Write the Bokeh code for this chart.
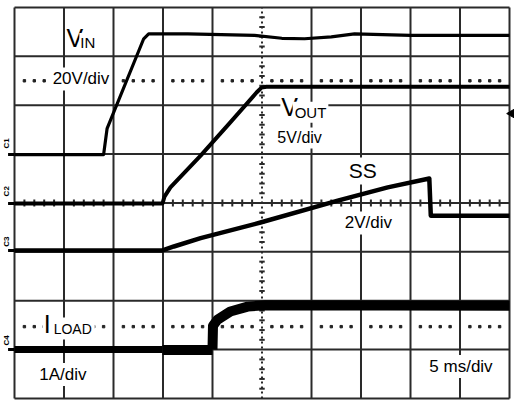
import math
from bokeh.plotting import figure
from bokeh.models import Label, Range1d
from bokeh.core.properties import value
from bokeh.embed import file_html
from bokeh.resources import INLINE

# ---- data (x in time divisions, 5 ms/div; y in screen divisions) ----
VIN_X = [0.0, 1.80, 1.87, 2.61, 2.71, 3.50, 4.85, 5.40, 5.86, 6.40, 6.87, 8.00, 10.0]
VIN_Y = [4.99, 4.99, 5.52, 7.36, 7.46, 7.46, 7.43, 7.37, 7.36, 7.40, 7.46, 7.43, 7.43]

VOUT_X = [0.0, 2.99, 3.03, 3.15, 3.76, 4.36, 4.89, 4.99, 5.09, 10.0]
VOUT_Y = [3.99, 3.99, 4.13, 4.32, 4.97, 5.65, 6.26, 6.36, 6.38, 6.38]

SS_X = [0.0, 2.99, 3.22, 3.76, 4.97, 6.53, 7.54, 8.38, 8.41, 10.0]
SS_Y = [3.03, 3.03, 3.11, 3.28, 3.60, 4.05, 4.32, 4.50, 3.74, 3.74]

ILOAD_X = [0.0, 2.99, 2.99, 4.00, 4.00, 4.01, 4.10, 4.36, 4.71, 5.07, 10.0]
ILOAD_Y = [1.00, 1.00, 0.99, 0.99, 1.00, 1.49, 1.61, 1.78, 1.88, 1.91, 1.90]

CH_NAMES = ["C1", "C2", "C3", "C4"]
CH_LABEL_Y = [5.22, 4.24, 3.21, 1.19]
TRIG_LEVEL = 5.83

N_XDIV, N_YDIV = 10, 8
FONT = "Liberation Sans"
GRID = "#2a2a2a"

p = figure(width=514, height=400,
           x_range=Range1d(-0.2828, 10.101), y_range=Range1d(-0.041, 8.143),
           output_backend="svg", toolbar_location=None,
           x_axis_type=None, y_axis_type=None, min_border=0,
           outline_line_color=None, background_fill_color="white",
           border_fill_color="white")

# ---- graticule ----
vx = [i for i in range(N_XDIV + 1) if i != N_XDIV // 2]
p.segment(x0=vx, y0=[0] * len(vx), x1=vx, y1=[N_YDIV] * len(vx),
          line_color=GRID, line_width=2)
hy = list(range(N_YDIV + 1))
p.segment(x0=[0] * len(hy), y0=hy, x1=[N_XDIV] * len(hy), y1=hy,
          line_color=GRID, line_width=2)
# centre vertical (dotted)
p.line([N_XDIV / 2, N_XDIV / 2], [0, N_YDIV], line_color=GRID,
       line_width=2, line_dash="2 3")
# ticks on centre lines
tx = [k * 0.2 for k in range(1, N_XDIV * 5) if k % 5]
p.segment(x0=tx, y0=[N_YDIV / 2 - 0.07] * len(tx), x1=tx,
          y1=[N_YDIV / 2 + 0.07] * len(tx), line_color=GRID, line_width=2)
ty = [k * 0.2 for k in range(1, N_YDIV * 5) if k % 5]
p.segment(x0=[N_XDIV / 2 - 0.055] * len(ty), y0=ty,
          x1=[N_XDIV / 2 + 0.055] * len(ty), y1=ty,
          line_color=GRID, line_width=2)
# dotted marker rows
for yr in (6.5, 1.47):
    p.scatter(tx, [yr] * len(tx), marker="square", size=2.4,
              color="#222222")

# ---- traces ----
p.line(VIN_X, VIN_Y, line_color="black", line_width=3.2, line_join="round")
p.line(VOUT_X, VOUT_Y, line_color="black", line_width=4, line_join="round")
p.line(SS_X, SS_Y, line_color="black", line_width=4.5, line_join="round")
p.line(ILOAD_X[:2], ILOAD_Y[:2], line_color="black", line_width=7)
p.line(ILOAD_X[2:4], ILOAD_Y[2:4], line_color="black", line_width=10)
p.line(ILOAD_X[4:], ILOAD_Y[4:], line_color="black", line_width=10,
       line_join="round")

# channel ground markers
levels = [VIN_Y[0], VOUT_Y[0], SS_Y[0], ILOAD_Y[0]]
p.segment(x0=[-0.13] * 4, y0=levels, x1=[0] * 4, y1=levels,
          line_color="black", line_width=3)
p.text(x=[-0.165] * 4, y=CH_LABEL_Y, text=CH_NAMES, angle=math.pi / 2,
       text_font=value(FONT), text_font_size="8px", text_font_style="bold",
       text_align="center", text_baseline="middle", text_color="black")

# trigger level marker
p.scatter([10.06], [TRIG_LEVEL], marker="triangle", angle=math.pi / 2,
          size=10, color="black")


def lab(x, y, t, size, pad=1):
    p.add_layout(Label(x=x, y=y, text=t, text_font=FONT,
                       text_font_size=f"{size}px", text_color="black",
                       text_baseline="middle", text_align="left",
                       background_fill_color="white", padding=pad))


lab(1.03, 7.376, "V", 25)
lab(1.31, 7.284, "IN", 15)
lab(0.73, 6.537, "20V/div", 17, 2)
lab(5.37, 5.954, "V", 25)
lab(5.62, 5.858, "OUT", 15, 2)
lab(5.27, 5.330, "5V/div", 16, 2)
lab(6.71, 4.655, "SS", 21, 2)
lab(6.63, 3.591, "2V/div", 17, 2)
lab(0.57, 1.514, "I", 25)
lab(0.73, 1.432, "LOAD", 14, 3)
lab(0.46, 0.491, "1A/div", 17, 2)
lab(8.34, 0.655, "5 ms/div", 17, 2)

open("out.html", "w").write(file_html(p, INLINE))
